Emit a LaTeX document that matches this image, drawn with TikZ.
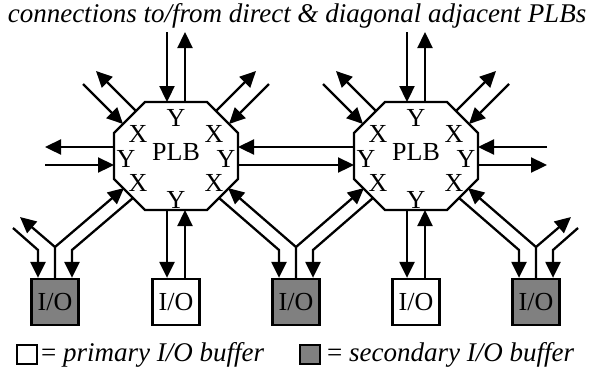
\documentclass[tikz,border=0pt]{standalone}
\usepackage{fontspec}
\setmainfont{Liberation Serif}
\usetikzlibrary{arrows.meta}

\tikzset{
  wire/.style={line width=2.3pt},
  link/.style={wire,-{Triangle[length=16pt,width=15pt]}},
  octa/.style={line width=2.4pt},
  lbl/.style={font=\fontsize{26}{30}\selectfont, inner sep=0pt},
  iobox/.style={draw, line width=2.3pt, minimum width=47pt, minimum height=46pt, inner sep=0pt, font=\fontsize{26}{30}\selectfont},
  primary/.style={iobox, fill=white},
  secondary/.style={iobox, fill=gray},
}

\begin{document}
\begin{tikzpicture}[x=1pt,y=-1pt]
\useasboundingbox (0,0) rectangle (594,368);

\node[font=\fontsize{27}{30}\selectfont\itshape, anchor=base, inner sep=0pt] (title) at (297,22) {connections to/from direct \& diagonal adjacent PLBs};

% the two PLBs with their ports
\foreach \n/\c in {1/176,2/416}{
  \begin{scope}[shift={(\c,156)}]
    \draw[octa] (-31,-54) -- (31,-54) -- (62,-23) -- (62,23) -- (31,54) -- (-31,54) -- (-62,23) -- (-62,-23) -- cycle;
    \node[lbl] (plb\n) at (0,-4) {PLB};
    \node[lbl] (yt\n) at (0,-38) {Y};
    \node[lbl] (yb\n) at (0,44) {Y};
    \node[lbl] (yl\n) at (-50,3) {Y};
    \node[lbl] (yr\n) at (50,3) {Y};
    \node[lbl] (xtl\n) at (-38,-22) {X};
    \node[lbl] (xtr\n) at (38,-22) {X};
    \node[lbl] (xbl\n) at (-38,27) {X};
    \node[lbl] (xbr\n) at (38,27) {X};
    \coordinate (t\n-in) at (-9,-54);    \coordinate (t\n-out) at (9,-54);
    \coordinate (b\n-out) at (-9,54);    \coordinate (b\n-in) at (9,54);
    \coordinate (l\n-out) at (-62,-9);   \coordinate (l\n-in) at (-62,9);
    \coordinate (r\n-in) at (62,-9);     \coordinate (r\n-out) at (62,9);
    \coordinate (tl\n-out) at (-40,-45); \coordinate (tl\n-in) at (-53,-32);
    \coordinate (tr\n-out) at (40,-45);  \coordinate (tr\n-in) at (53,-32);
    \coordinate (bl\n-in) at (-52,32);   \coordinate (bl\n-out) at (-42.5,41.5);
    \coordinate (br\n-in) at (52,32);    \coordinate (br\n-out) at (42.5,41.5);
    % free ends
    \coordinate (t\n-src) at (-9,-124);  \coordinate (t\n-dst) at (9,-124);
    \coordinate (tl\n-dst) at (-80,-85); \coordinate (tl\n-src) at (-93,-72);
    \coordinate (tr\n-dst) at (80,-85);  \coordinate (tr\n-src) at (93,-72);
  \end{scope}
  \draw[link] (t\n-src) -- (t\n-in);
  \draw[link] (t\n-out) -- (t\n-dst);
  \draw[link] (tl\n-out) -- (tl\n-dst);
  \draw[link] (tl\n-src) -- (tl\n-in);
  \draw[link] (tr\n-out) -- (tr\n-dst);
  \draw[link] (tr\n-src) -- (tr\n-in);
}

% horizontal links
\coordinate (w-dst) at (45,147);
\coordinate (w-src) at (45,165);
\coordinate (e-src) at (547,147);
\coordinate (e-dst) at (547,165);
\draw[link] (l1-out) -- (w-dst);
\draw[link] (w-src) -- (l1-in);
\draw[link] (l2-out) -- (r1-in);
\draw[link] (r1-out) -- (l2-in);
\draw[link] (e-src) -- (r2-in);
\draw[link] (r2-out) -- (e-dst);

% I/O buffers
\node[secondary] (io1) at (55,302) {I/O};
\node[primary] (io2) at (176,302) {I/O};
\node[secondary] (io3) at (296,302) {I/O};
\node[primary] (io4) at (416,302) {I/O};
\node[secondary] (io5) at (536,302) {I/O};

% primary buffers
\draw[link] (b1-out) -- (b1-out |- io2.north);
\draw[link] (io2.north -| b1-in) -- (b1-in);
\draw[link] (b2-out) -- (b2-out |- io4.north);
\draw[link] (io4.north -| b2-in) -- (b2-in);

% secondary buffers
\coordinate (f1) at (55,247);  \coordinate (f3) at (296,247);  \coordinate (f5) at (536,247);
\coordinate (k1l) at (38,250); \coordinate (k1r) at (72,250);
\coordinate (k3l) at (279,250); \coordinate (k3r) at (313,250);
\coordinate (k5l) at (519,250); \coordinate (k5r) at (553,250);
\coordinate (w-io-dst) at (20,217); \coordinate (w-io-src) at (13,228);
\coordinate (e-io-dst) at (571,217); \coordinate (e-io-src) at (578,228);

\draw[link] (io1.north) -- (f1) -- (bl1-in);
\draw[link] (f1) -- (w-io-dst);
\draw[link] (w-io-src) -- (k1l) -- (k1l |- io1.north);
\draw[link] (bl1-out) -- (k1r) -- (k1r |- io1.north);

\draw[link] (io3.north) -- (f3) -- (br1-in);
\draw[link] (f3) -- (bl2-in);
\draw[link] (br1-out) -- (k3l) -- (k3l |- io3.north);
\draw[link] (bl2-out) -- (k3r) -- (k3r |- io3.north);

\draw[link] (io5.north) -- (f5) -- (br2-in);
\draw[link] (f5) -- (e-io-dst);
\draw[link] (br2-out) -- (k5l) -- (k5l |- io5.north);
\draw[link] (e-io-src) -- (k5r) -- (k5r |- io5.north);

% legend
\node[primary, line width=2pt, minimum width=20pt, minimum height=19pt] (keyp) at (27,354) {};
\node[anchor=base west, inner sep=0pt, font=\fontsize{27}{30}\selectfont] (keyptxt) at (41,361) {= \textit{primary I/O buffer}};
\node[secondary, line width=2pt, minimum width=20pt, minimum height=19pt] (keys) at (310,354) {};
\node[anchor=base west, inner sep=0pt, font=\fontsize{27}{30}\selectfont] (keystxt) at (327,361) {= \textit{secondary I/O buffer}};
\end{tikzpicture}
\end{document}
